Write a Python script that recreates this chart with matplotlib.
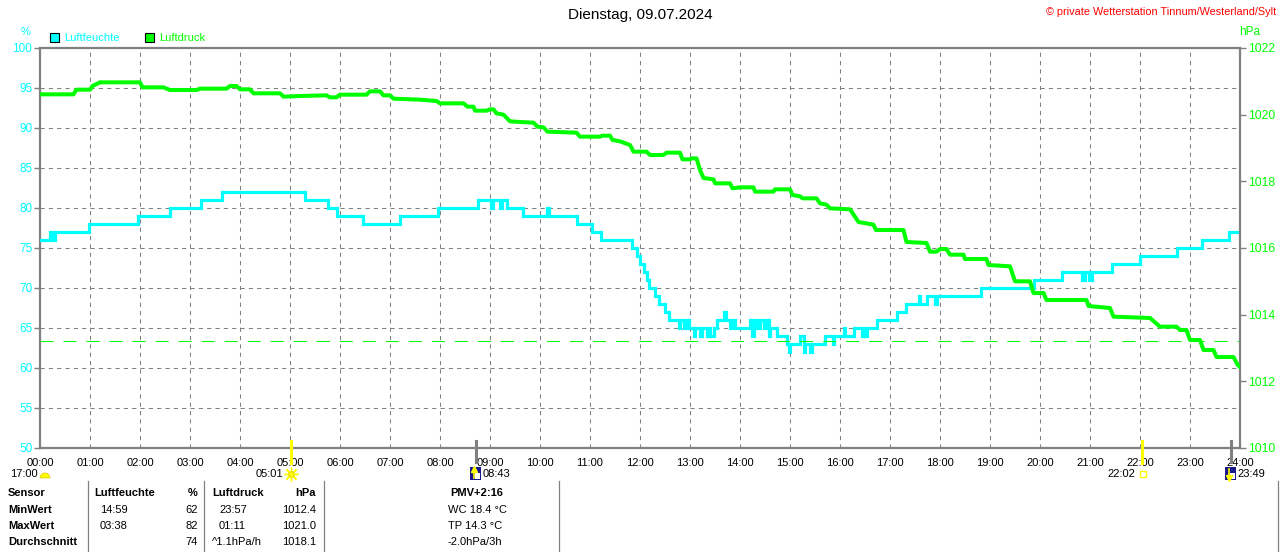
import matplotlib
matplotlib.use('Agg')
import matplotlib.pyplot as plt
from matplotlib import patches, transforms

plt.rcParams['font.family'] = ['Liberation Sans', 'DejaVu Sans']

# Luftfeuchte (%) - Stufenwerte (Stunde, Wert)
hum_t = [0.0, 0.2, 0.25, 0.3, 0.98, 1.95, 2.6, 3.21, 3.64, 5.3, 5.76, 5.94, 6.46, 7.2, 7.96,
         8.76, 9.03, 9.06, 9.2, 9.23, 9.33, 9.66, 10.14, 10.17, 10.73, 11.03, 11.21,
         11.83, 11.93, 12.0, 12.07, 12.13, 12.17, 12.3, 12.37, 12.5, 12.57, 12.77, 12.8,
         12.87, 12.93, 12.97, 13.07, 13.1, 13.2, 13.23, 13.33, 13.37, 13.4, 13.47, 13.53,
         13.67, 13.71, 13.73, 13.8, 13.83, 13.9, 14.2, 14.23, 14.27, 14.33, 14.4, 14.47,
         14.53, 14.57, 14.6, 14.73, 14.93, 14.97, 15.0, 15.07, 15.2, 15.27, 15.3, 15.4,
         15.43, 15.7, 15.85, 15.88, 16.07, 16.1, 16.27, 16.43, 16.47, 16.5, 16.53, 16.73,
         17.13, 17.33, 17.57, 17.6, 17.73, 17.9, 17.93, 18.83, 19.87, 20.43, 20.83, 20.9,
         20.97, 21.03, 21.43, 22.0, 22.73, 23.23, 23.77, 24.0]
hum_v = [76, 77, 76, 77, 78, 79, 80, 81, 82, 81, 80, 79, 78, 79, 80,
         81, 80, 81, 80, 81, 80, 79, 80, 79, 78, 77, 76,
         75, 74, 73, 72, 71, 70, 69, 68, 67, 66, 65, 66,
         65, 66, 65, 64, 65, 64, 65, 64, 65, 64, 65, 66,
         67, 66, 66, 65, 66, 65, 66, 64, 66, 65, 66, 65,
         66, 64, 65, 64, 63, 62, 63, 63, 64, 62, 63, 62,
         63, 64, 63, 64, 65, 64, 65, 64, 65, 64, 65, 66,
         67, 68, 69, 68, 69, 68, 69, 70, 71, 72, 71, 72,
         71, 72, 73, 74, 75, 76, 77, 77]

# Luftdruck (hPa)
press_t = [0.0, 0.67, 0.73, 1.0, 1.05, 1.2, 2.0, 2.05, 2.47, 2.6, 3.13, 3.2, 3.73, 3.8, 3.93,
           4.0, 4.2, 4.27, 4.8, 4.87, 5.2, 5.73, 5.8, 5.93, 6.0, 6.53, 6.6, 6.8, 6.87, 7.0,
           7.07, 7.6, 7.93, 8.0, 8.47, 8.55, 8.67, 8.7, 8.93, 9.0, 9.07, 9.13, 9.27, 9.4,
           9.6, 9.87, 9.95, 10.07, 10.15, 10.73, 10.8, 11.2, 11.25, 11.4, 11.45, 11.6, 11.8,
           11.87, 12.13, 12.2, 12.47, 12.53, 12.8, 12.85, 13.0, 13.03, 13.13, 13.2, 13.27,
           13.47, 13.5, 13.8, 13.85, 14.0, 14.27, 14.3, 14.67, 14.7, 15.0, 15.05, 15.2,
           15.25, 15.53, 15.6, 15.73, 15.8, 16.2, 16.37, 16.67, 16.72, 17.27, 17.33, 17.73,
           17.8, 17.93, 18.0, 18.13, 18.2, 18.47, 18.5, 18.93, 18.97, 19.4, 19.5, 19.8,
           19.87, 20.07, 20.13, 20.93, 20.97, 21.4, 21.47, 22.2, 22.4, 22.73, 22.8, 22.93,
           23.0, 23.2, 23.27, 23.47, 23.53, 23.87, 23.95, 24.0]
press_v = [1020.61, 1020.61, 1020.75, 1020.75, 1020.86, 1020.97, 1020.97, 1020.82, 1020.82,
           1020.74, 1020.74, 1020.78, 1020.78, 1020.86, 1020.86, 1020.76, 1020.76, 1020.64,
           1020.64, 1020.54, 1020.56, 1020.58, 1020.52, 1020.52, 1020.6, 1020.6, 1020.7,
           1020.7, 1020.58, 1020.58, 1020.48, 1020.45, 1020.41, 1020.34, 1020.34, 1020.24,
           1020.24, 1020.12, 1020.12, 1020.16, 1020.16, 1020.04, 1020.0, 1019.8, 1019.78,
           1019.76, 1019.64, 1019.62, 1019.49, 1019.46, 1019.34, 1019.34, 1019.37, 1019.37,
           1019.24, 1019.2, 1019.09, 1018.89, 1018.89, 1018.79, 1018.79, 1018.86, 1018.86,
           1018.66, 1018.66, 1018.69, 1018.69, 1018.34, 1018.1, 1018.06, 1017.94, 1017.94,
           1017.79, 1017.82, 1017.82, 1017.69, 1017.69, 1017.76, 1017.76, 1017.59, 1017.55,
           1017.49, 1017.49, 1017.34, 1017.3, 1017.19, 1017.16, 1016.78, 1016.7, 1016.54,
           1016.54, 1016.18, 1016.15, 1015.89, 1015.89, 1015.97, 1015.97, 1015.8, 1015.8,
           1015.67, 1015.67, 1015.49, 1015.45, 1015.0, 1015.0, 1014.65, 1014.65, 1014.44,
           1014.44, 1014.26, 1014.2, 1013.94, 1013.9, 1013.64, 1013.64, 1013.54, 1013.54,
           1013.24, 1013.24, 1012.94, 1012.94, 1012.73, 1012.73, 1012.5, 1012.43]
press_ref = 1013.2

hour_labels = ['%02d:00' % h for h in range(25)]
hum_ticks = list(range(50, 101, 5))
press_ticks = list(range(1010, 1023, 2))

# Sonne / Mond Ereignisse (Stunde)
sunrise, sunset = 5 + 1 / 60, 22 + 2 / 60
moonrise, moonset = 8 + 43 / 60, 23 + 49 / 60

table_rows = [
    ('Sensor', 'Luftfeuchte', '%', 'Luftdruck', 'hPa', 'PMV+2:16'),
    ('MinWert', '14:59', '62', '23:57', '1012.4', 'WC 18.4 °C'),
    ('MaxWert', '03:38', '82', '01:11', '1021.0', 'TP 14.3 °C'),
    ('Durchschnitt', '', '74', '^1.1hPa/h', '1018.1', '-2.0hPa/3h'),
]

CYAN = '#00ffff'
GREEN = '#00ff00'
GRAY = '#808080'
W, H = 1280, 552

fig = plt.figure(figsize=(12.8, 5.52), dpi=100)
ax = fig.add_axes([40 / W, (H - 448) / H, 1200 / W, 400 / H])
ax2 = ax.twinx()

ax.set_xlim(0, 24)
ax.set_ylim(50, 100)
ax2.set_ylim(1010, 1022)

ax.set_axisbelow(True)
ax.grid(True, color=GRAY, linestyle=(0, (4, 4)), linewidth=0.75)

ax.plot(hum_t, hum_v, drawstyle='steps-post', color=CYAN, linewidth=2.3,
        solid_joinstyle='miter', zorder=3)
ax2.axhline(press_ref, color=GREEN, linewidth=0.75, linestyle=(0, (12.5, 9.6)))
ax2.plot(press_t, press_v, color=GREEN, linewidth=2.9, zorder=3)

ax.set_xticks(range(25))
ax.set_xticklabels(hour_labels)
ax.tick_params(axis='x', length=0, pad=7, labelsize=8, labelcolor='black')
ax.set_yticks(hum_ticks)
ax.tick_params(axis='y', length=4, width=1, color=GRAY, pad=1.5, labelsize=8.5, labelcolor=CYAN)
ax2.set_yticks(press_ticks)
ax2.tick_params(axis='y', length=4, width=1, color=GRAY, pad=1.5, labelsize=8.8, labelcolor=GREEN)

for s in ax.spines.values():
    s.set_color(GRAY)
    s.set_linewidth(1.6)
ax.spines['right'].set_visible(False)
for k, s in ax2.spines.items():
    s.set_visible(k == 'right')
    s.set_color(GRAY)
    s.set_linewidth(1.6)

# Markierungen Sonne / Mond unter der Zeitachse
trans = transforms.blended_transform_factory(ax.transData, ax.transAxes)
for t, c, y0 in [(sunrise, '#ffff00', -0.0375), (sunset, '#ffff00', -0.0375),
                 (moonrise, GRAY, -0.035), (moonset, GRAY, -0.035)]:
    ax.plot([t, t], [y0, 0.018], color=c, linewidth=2.2, transform=trans, clip_on=False, zorder=5)

# Overlay in Pixelkoordinaten fuer Texte
ov = fig.add_axes([0, 0, 1, 1], zorder=-1)
ov.set_xlim(0, W)
ov.set_ylim(H, 0)
ov.axis('off')

ov.text(640, 15, 'Dienstag, 09.07.2024', ha='center', va='center', fontsize=11)
ov.text(1276, 12, '© private Wetterstation Tinnum/Westerland/Sylt', ha='right', va='center',
        fontsize=7.8, color='red')
ov.text(26, 32, '%', ha='center', va='center', fontsize=8, color=CYAN)
ov.text(1250, 32, 'hPa', ha='center', va='center', fontsize=8.5, color=GREEN)

ov.add_patch(patches.Rectangle((50, 33), 9, 9, facecolor=CYAN, edgecolor='black', linewidth=0.8))
ov.text(64, 38, 'Luftfeuchte', va='center', fontsize=8, color=CYAN)
ov.add_patch(patches.Rectangle((145, 33), 9, 9, facecolor=GREEN, edgecolor='black', linewidth=0.8))
ov.text(159, 38, 'Luftdruck', va='center', fontsize=8, color=GREEN)

# zweite Zeile unter der Achse
def xpix(t):
    return 40 + t * 50

ov.text(10, 474, '17:00', va='center', fontsize=8)
ov.add_patch(patches.Wedge((45, 478), 5, 180, 360, facecolor='#ffff00', edgecolor='#e0c000', lw=0.5))
ov.text(xpix(sunrise) - 8, 474, '05:01', ha='right', va='center', fontsize=8)
ov.plot(xpix(sunrise), 474, marker=(8, 2, 0), markersize=10, color='#ffff00', mew=1)
ov.plot(xpix(sunrise), 474, marker='o', markersize=4, color='#ffff00', mec='#e0c000', mew=0.5)
ov.text(xpix(sunset) - 6, 474, '22:02', ha='right', va='center', fontsize=8)
ov.add_patch(patches.Rectangle((xpix(sunset) - 2, 471), 6, 6, facecolor='none', edgecolor='#ffff00', lw=1))

for t, label, up in [(moonrise, '08:43', True), (moonset, '23:49', False)]:
    x0 = xpix(t) - 6
    ov.add_patch(patches.Rectangle((x0, 467), 11, 13, facecolor='#1a1a8c', edgecolor='none'))
    ov.add_patch(patches.Rectangle((x0 + 5, 473), 5, 6, facecolor='white', edgecolor='none'))
    ov.plot([x0 + 4, x0 + 4], [469, 478], color='#ffff00', lw=1.2)
    ov.plot(x0 + 4, 469 if up else 478, marker='^' if up else 'v', ms=4, color='#ffff00')
    ov.text(x0 + 13, 474, label, va='center', fontsize=8)

# Tabelle
row_y = [493, 510, 526, 542]
for i, (c0, c1, c2, c3, c4, c5) in enumerate(table_rows):
    y = row_y[i]
    head = i == 0
    ov.text(8, y, c0, va='center', fontsize=8, fontweight='bold')
    ov.text(94 if head else 100, y, c1, va='center', fontsize=8, fontweight='bold' if head else 'normal')
    ov.text(198, y, c2, ha='right', va='center', fontsize=8, fontweight='bold' if head else 'normal')
    ov.text(212 if (head or i == 3) else 219, y, c3, va='center', fontsize=8,
            fontweight='bold' if head else 'normal')
    ov.text(316, y, c4, ha='right', va='center', fontsize=8, fontweight='bold' if head else 'normal')
    if head:
        ov.text(477, y, c5, ha='center', va='center', fontsize=8, fontweight='bold')
    else:
        ov.text(448, y, c5, va='center', fontsize=8)

for x in [88, 204, 324, 559, 1278]:
    ov.plot([x, x], [481, H], color=GRAY, lw=0.9)

fig.savefig('out.png', dpi=100)
plt.close(fig)
